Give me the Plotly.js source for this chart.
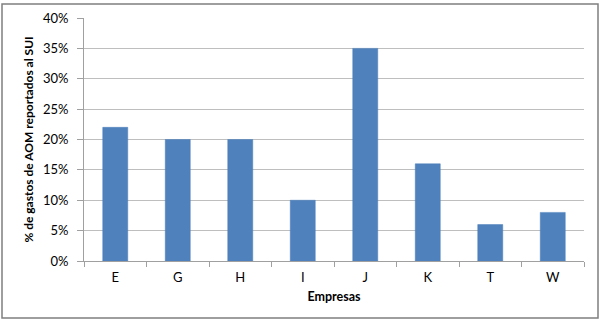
<!DOCTYPE html>
<html><head><meta charset="utf-8">
<script src="https://cdn.plot.ly/plotly-3.0.1.min.js"></script>
<style>html,body{margin:0;padding:0;background:#fff;}#c{width:604px;height:323px;}</style>
</head><body><div id="c"></div>
<script>
const categories = ["E","G","H","I","J","K","T","W"];
const values = [0.22,0.20,0.20,0.10,0.35,0.16,0.06,0.08];
const yTickVals = [0,0.05,0.10,0.15,0.20,0.25,0.30,0.35,0.40];
const yTickText = ["0%","5%","10%","15%","20%","25%","30%","35%","40%"];

const font = {family:"Lato, 'Open Sans', sans-serif", size:13, color:"#000"};
Plotly.newPlot("c",[{
  type:"bar", x:categories, y:values, width:0.4,
  marker:{color:"#4F81BD", line:{color:"#4A7EBB", width:0.5}},
  hoverinfo:"none"
}],{
  width:604, height:323,
  margin:{l:84,r:20,t:18,b:62},
  paper_bgcolor:"#fff", plot_bgcolor:"#fff",
  font:font,
  showlegend:false,
  bargap:0.6,
  xaxis:{
    showline:true, linecolor:"#A0A0A0", linewidth:1,
    ticks:"outside", ticklen:5, tickcolor:"#A0A0A0", tickson:"boundaries",
    showgrid:false, tickfont:{size:13}, ticklabelstandoff:4,
    title:{text:"<b>Empresas</b>", font:{size:12.5}, standoff:8},
    fixedrange:true
  },
  yaxis:{
    range:[0,0.40], tickvals:yTickVals, ticktext:yTickText,
    showline:true, linecolor:"#A0A0A0", linewidth:1,
    ticks:"outside", ticklen:6, tickcolor:"#A0A0A0",
    showgrid:true, gridcolor:"#BEBEBE", gridwidth:1,
    zeroline:false, tickfont:{size:13}, ticklabelstandoff:6,
    title:{text:"<b>% de gastos de AOM reportados al SUI</b>", font:{size:12}, standoff:6},
    fixedrange:true
  },
  shapes:[{type:"rect", xref:"paper", yref:"paper",
    x0:(2-84)/500, x1:(598-84)/500, y0:(261-318)/243, y1:(261-4)/243,
    line:{color:"#7F7F7F", width:1.5}, fillcolor:"rgba(0,0,0,0)", layer:"below"}]
},{staticPlot:true});
</script></body></html>
